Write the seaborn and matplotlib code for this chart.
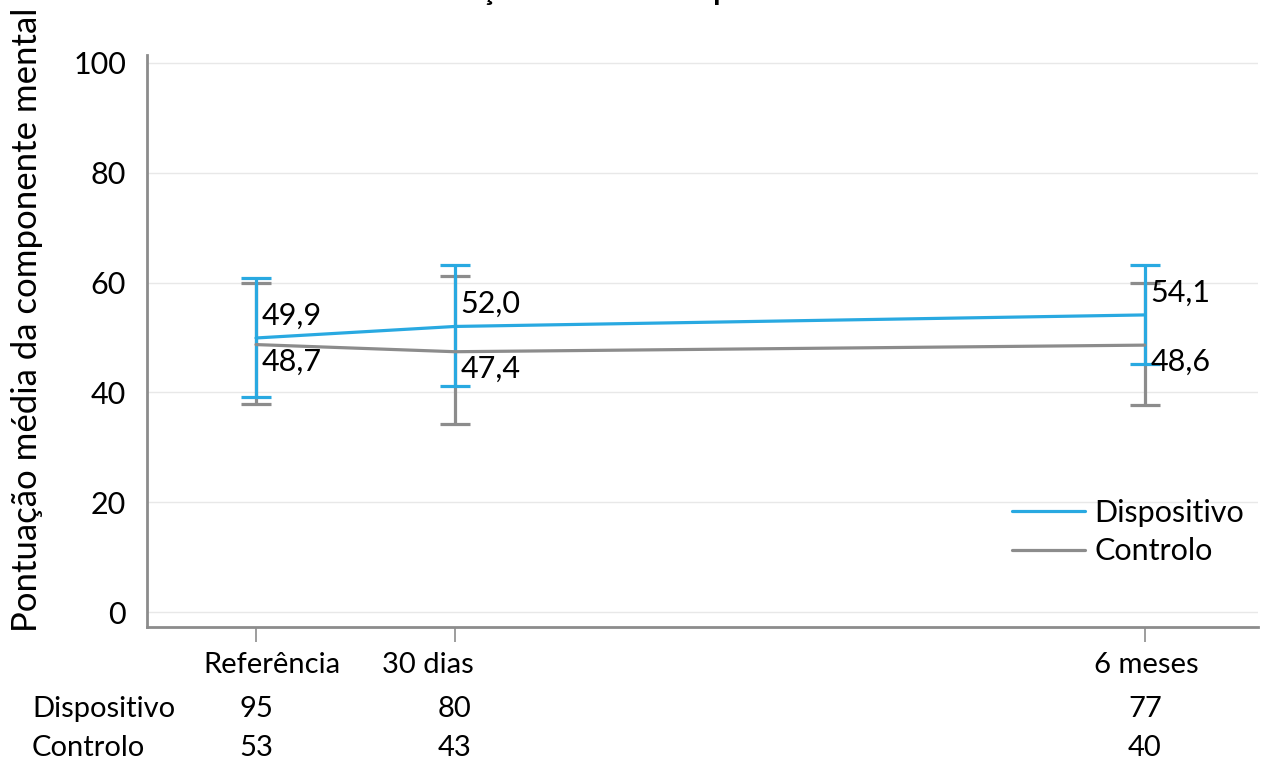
import matplotlib
matplotlib.use("Agg")
import matplotlib.pyplot as plt
import matplotlib.transforms as mtransforms
import numpy as np
import pandas as pd
import seaborn as sns

# Follow-up time points (days since baseline) and their labels
timepoints = ["Referência", "30 dias", "6 meses"]
days = [0, 30, 134]

groups = ["Dispositivo", "Controlo"]
mean_disp = [49.9, 52.0, 54.1]
mean_ctrl = [48.7, 47.4, 48.6]
low_disp = [39.2, 41.2, 45.2]
high_disp = [60.8, 63.2, 63.2]
low_ctrl = [37.9, 34.2, 37.7]
high_ctrl = [59.9, 61.2, 59.9]

n_disp = [95, 80, 77]
n_ctrl = [53, 43, 40]

title = "Pontuação média da componente mental"
ylabel = "Pontuação média da componente mental"
yticks = [0, 20, 40, 60, 80, 100]

BLUE = "#29A9E1"
GREY = "#8C8C8C"
FONT = "Lato"
FS = 21

sns.set_theme(style="white")
plt.rcParams["font.family"] = [FONT, "DejaVu Sans"]
plt.rcParams["text.color"] = "black"
plt.rcParams["axes.labelcolor"] = "black"
plt.rcParams["ytick.labelcolor"] = "black"

df = pd.DataFrame({
    "dias": days * 2,
    "valor": mean_disp + mean_ctrl,
    "grupo": [groups[0]] * 3 + [groups[1]] * 3,
})

fig = plt.figure(figsize=(12.62, 7.61), dpi=100)
ax = fig.add_axes([0.1165, 0.176, 0.8803, 0.752])

# error bars (control first so the device bars sit on top)
for means, lo, hi, col in [(mean_ctrl, low_ctrl, high_ctrl, GREY),
                           (mean_disp, low_disp, high_disp, BLUE)]:
    m = np.array(means)
    yerr = np.vstack([m - np.array(lo), np.array(hi) - m])
    ax.errorbar(days, m, yerr=yerr, fmt="none", ecolor=col, elinewidth=2.3,
                capsize=11, capthick=2.3, zorder=3)

sns.lineplot(data=df, x="dias", y="valor", hue="grupo", hue_order=groups,
             palette=[BLUE, GREY], linewidth=2.3, ax=ax, zorder=4,
             legend=False)

# value labels next to each point
for d, vd, vc in zip(days, mean_disp, mean_ctrl):
    ax.annotate(f"{vd:.1f}".replace(".", ","), (d, vd), xytext=(4, 6),
                textcoords="offset points", ha="left", va="bottom",
                fontsize=22, color="black", zorder=5)
    ax.annotate(f"{vc:.1f}".replace(".", ","), (d, vc), xytext=(4, -2),
                textcoords="offset points", ha="left", va="top",
                fontsize=22, color="black", zorder=5)

ax.set_xlim(-16.43, 151.06)
ax.set_ylim(-2.73, 101.46)
ax.set_yticks(yticks)
ax.set_yticklabels([str(t) for t in yticks], fontsize=22)
ax.tick_params(axis="y", length=0, pad=15)
ax.set_xticks(days)
ax.set_xticklabels([])
ax.tick_params(axis="x", direction="out", length=11, width=1.2, color=GREY,
               bottom=True)
ax.grid(axis="y", color="#E8E8E8", linewidth=1.0)
ax.set_axisbelow(True)
ax.set_xlabel("")
ax.set_ylabel(ylabel, fontsize=25)
ax.yaxis.set_label_coords(-0.094, 0.537)

for side in ["top", "right"]:
    ax.spines[side].set_visible(False)
for side in ["left", "bottom"]:
    ax.spines[side].set_color(GREY)
    ax.spines[side].set_linewidth(2)

# time point labels and sample sizes beneath the axis
blend = mtransforms.blended_transform_factory(ax.transData, fig.transFigure)
label_shift = [16, -27, 2]
for d, lab, s in zip(days, timepoints, label_shift):
    off = mtransforms.ScaledTranslation(s / 100, 0, fig.dpi_scale_trans)
    ax.text(d, 1 - 665 / 761, lab, transform=blend + off, ha="center",
            va="center", fontsize=FS)
for d, nd, nc in zip(days, n_disp, n_ctrl):
    ax.text(d, 1 - 709 / 761, str(nd), transform=blend, ha="center",
            va="center", fontsize=FS)
    ax.text(d, 1 - 748 / 761, str(nc), transform=blend, ha="center",
            va="center", fontsize=FS)
fig.text(32 / 1262, 1 - 709 / 761, groups[0], ha="left", va="center",
         fontsize=FS)
fig.text(32 / 1262, 1 - 748 / 761, groups[1], ha="left", va="center",
         fontsize=FS)

# legend
handles = [plt.Line2D([], [], color=BLUE, lw=2.3),
           plt.Line2D([], [], color=GREY, lw=2.3)]
ax.legend(handles, groups, loc="lower right", bbox_to_anchor=(1.012, 0.06),
          frameon=False, fontsize=22, handlelength=2.4, handletextpad=0.3,
          labelspacing=0.35)

# chart title sits above the visible area
fig.text(0.517, 1.0, title, ha="center", va="baseline", fontsize=21,
         fontweight="bold")

fig.savefig("out.png", dpi=100)
